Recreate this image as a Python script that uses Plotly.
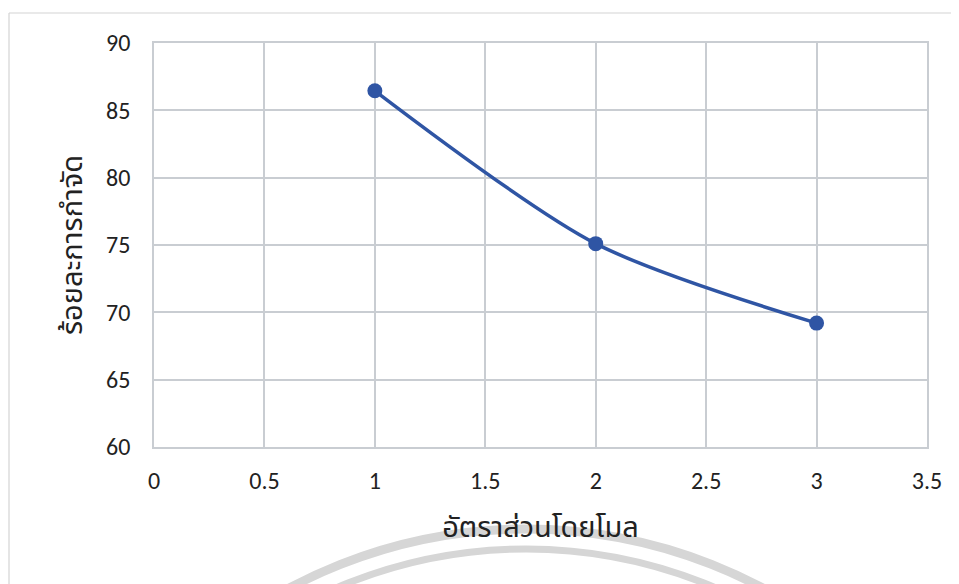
import plotly.graph_objects as go

mole_ratio = [1, 2, 3]
removal_pct = [86.45, 75.1, 69.2]
x_ticks = [0, 0.5, 1, 1.5, 2, 2.5, 3, 3.5]
y_ticks = [60, 65, 70, 75, 80, 85, 90]
x_title = "อัตราส่วนโดยโมล"
y_title = "ร้อยละการกำจัด"

fig = go.Figure()
fig.add_trace(go.Scatter(
    x=mole_ratio, y=removal_pct, mode="lines+markers",
    line=dict(color="#2f55a4", width=3.5, shape="spline", smoothing=0.8),
    marker=dict(color="#2f55a4", size=15),
    showlegend=False,
))

tick_font = dict(family="Carlito, Lato, sans-serif", size=24, color="#222")
title_font = dict(family="Noto Sans, Noto Sans Thai, sans-serif", size=29, color="#222")
axis_common = dict(showgrid=True, gridcolor="#c9cdd2", gridwidth=1.5,
                   showline=True, linecolor="#c9cdd2", linewidth=1.5, mirror=True,
                   zeroline=False, ticks="", tickfont=tick_font)

fig.update_xaxes(range=[0, 3.5], tickvals=x_ticks, ticktext=[str(v) for v in x_ticks],
                 title=dict(text=x_title, font=title_font, standoff=23),
                 ticklabelstandoff=11, **axis_common)
fig.update_yaxes(range=[60, 90], tickvals=y_ticks,
                 title=dict(text=y_title, font=title_font, standoff=15),
                 ticklabelstandoff=17, **axis_common)

# page coords of plot area: x 154..927, y 43..447
def px(x):
    return (x - 154) / 773

def py(y):
    return (447 - y) / 404

# outer chart border (top and left edges visible)
fig.add_shape(type="line", xref="paper", yref="paper", x0=px(9), x1=px(1300), y0=py(13), y1=py(13),
              line=dict(color="#d4d4d4", width=1.2), layer="below")
fig.add_shape(type="line", xref="paper", yref="paper", x0=px(9), x1=px(9), y0=py(13), y1=py(800),
              line=dict(color="#d4d4d4", width=1.2), layer="below")
# watermark arcs
fig.add_shape(type="circle", xref="paper", yref="paper",
              x0=px(22), x1=px(1030), y0=py(529), y1=py(1537),
              line=dict(color="#d6d6d6", width=9), layer="below")
fig.add_shape(type="circle", xref="paper", yref="paper",
              x0=px(44), x1=px(1008), y0=py(549), y1=py(1513),
              line=dict(color="#d6d6d6", width=7), layer="below")

fig.update_layout(
    width=951, height=576,
    margin=dict(l=146, r=32, t=35, b=137),
    paper_bgcolor="white", plot_bgcolor="white",
)
fig.write_html("out.html")
